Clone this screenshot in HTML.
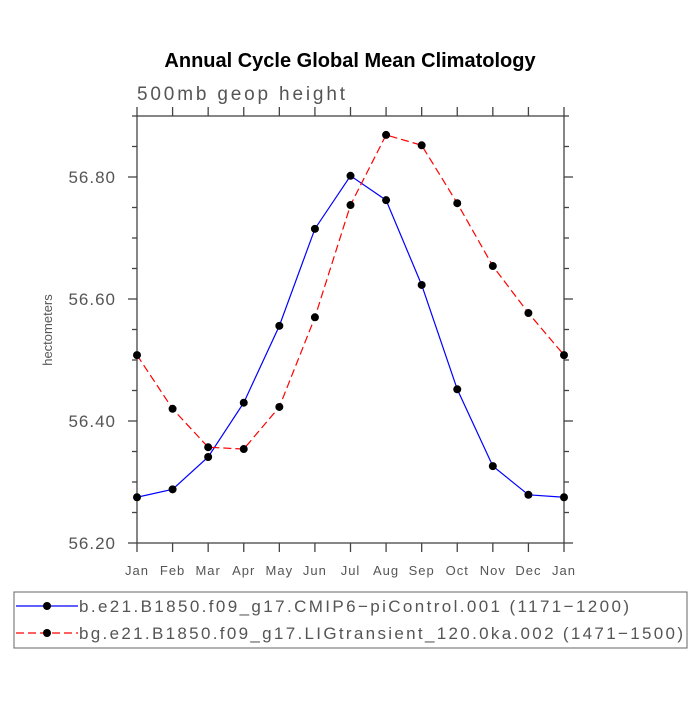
<!DOCTYPE html>
<html><head><meta charset="utf-8"><style>
body{margin:0;background:#fff}
svg text{font-family:"Liberation Sans",sans-serif}
</style></head><body>
<svg id="chart" width="700" height="700">
<text x="350" y="67" text-anchor="middle" font-size="20" font-weight="bold" fill="#000">Annual Cycle Global Mean Climatology</text>
<text x="137" y="100" font-size="19" fill="#555" textLength="208" lengthAdjust="spacing">500mb geop height</text>
<text x="52" y="330" font-size="13" fill="#555" text-anchor="middle" transform="rotate(-90 52 330)">hectometers</text>
<rect x="137" y="116" width="427" height="427" fill="none" stroke="#444" stroke-width="1.3"/>
<g id="axes"></g>
<g id="series"></g>
<rect x="14" y="592" width="673" height="56" fill="none" stroke="#666" stroke-width="1"/>
<g>
<line x1="16" y1="606" x2="78" y2="606" stroke="#0000ff" stroke-width="1.2"/>
<circle cx="47" cy="606" r="4" fill="#000"/>
<text x="79" y="612" font-size="17" fill="#555" textLength="550" lengthAdjust="spacing">b.e21.B1850.f09_g17.CMIP6−piControl.001 (1171−1200)</text>
</g>
<g>
<line x1="16" y1="633" x2="78" y2="633" stroke="#ff0000" stroke-width="1.2" stroke-dasharray="8,4"/>
<circle cx="47" cy="633" r="4" fill="#000"/>
<text x="79" y="639" font-size="17" fill="#555" textLength="604" lengthAdjust="spacing">bg.e21.B1850.f09_g17.LIGtransient_120.0ka.002 (1471−1500)</text>
</g>
</svg>
<script>
const months=["Jan","Feb","Mar","Apr","May","Jun","Jul","Aug","Sep","Oct","Nov","Dec","Jan"];
const controlValues=[56.275,56.288,56.341,56.430,56.556,56.715,56.802,56.762,56.623,56.452,56.326,56.279,56.275];
const ligValues=[56.508,56.420,56.357,56.354,56.423,56.570,56.754,56.869,56.852,56.757,56.654,56.577,56.508];
const yTicks=[56.20,56.40,56.60,56.80];
const yTickLabels=["56.20","56.40","56.60","56.80"];
const x0=137,x1=564,yTop=116,yBot=543,yMin=56.2,yMax=56.9;
const xs=i=>x0+i*(x1-x0)/(months.length-1);
const ys=v=>yBot-(v-yMin)/(yMax-yMin)*(yBot-yTop);
const NS="http://www.w3.org/2000/svg";
const axes=document.getElementById('axes'),ser=document.getElementById('series');
function mk(tag,attrs,parent){const e=document.createElementNS(NS,tag);for(const k in attrs)e.setAttribute(k,attrs[k]);parent.appendChild(e);return e;}
months.forEach((m,i)=>{
  const x=xs(i);
  const t1=mk('line',{x1:x,y1:yBot,x2:x,y2:yBot+9,stroke:'#444','stroke-width':1.3},axes);
  
  
  const t2=mk('line',{x1:x,y1:yTop,x2:x,y2:yTop-9,stroke:'#444','stroke-width':1.3},axes);
  
  
  const tx=mk('text',{x:x,y:yBot+32,'text-anchor':'middle','font-size':13,fill:'#555','letter-spacing':1},axes);
  tx.textContent=m;
  
  
});
for(let v=yMin;v<=yMax+1e-9;v+=0.05){
  const y=ys(v);const major=Math.abs(Math.round(v*10)/10-v)<1e-6&&Math.round(v*10)%2===0;
  const L=major?9:5;
  const a=mk('line',{x1:x0,y1:y,x2:x0-L,y2:y,stroke:'#444','stroke-width':1.3},axes);
  
  
  const b=mk('line',{x1:x1,y1:y,x2:x1+L,y2:y,stroke:'#444','stroke-width':1.3},axes);
  
  
}
yTicks.forEach((v,i)=>{
  const t=mk('text',{x:116,y:ys(v)+6,'text-anchor':'end','font-size':17,fill:'#555','letter-spacing':1},axes);
  t.textContent=yTickLabels[i];
  
  
});
function draw(vals,color,dash,name){
  const p=mk('polyline',{points:vals.map((v,i)=>xs(i)+','+ys(v)).join(' '),fill:'none',stroke:color,'stroke-width':1.2,'stroke-dasharray':dash},ser);
  
  
  vals.forEach((v,i)=>{
    const c=mk('circle',{cx:xs(i),cy:ys(v),r:4,fill:'#000'},ser);
    
    
  });
}
draw(controlValues,'#0000ff','none','control');
draw(ligValues,'#ff0000','8,4','lig');
</script>
</body></html>
